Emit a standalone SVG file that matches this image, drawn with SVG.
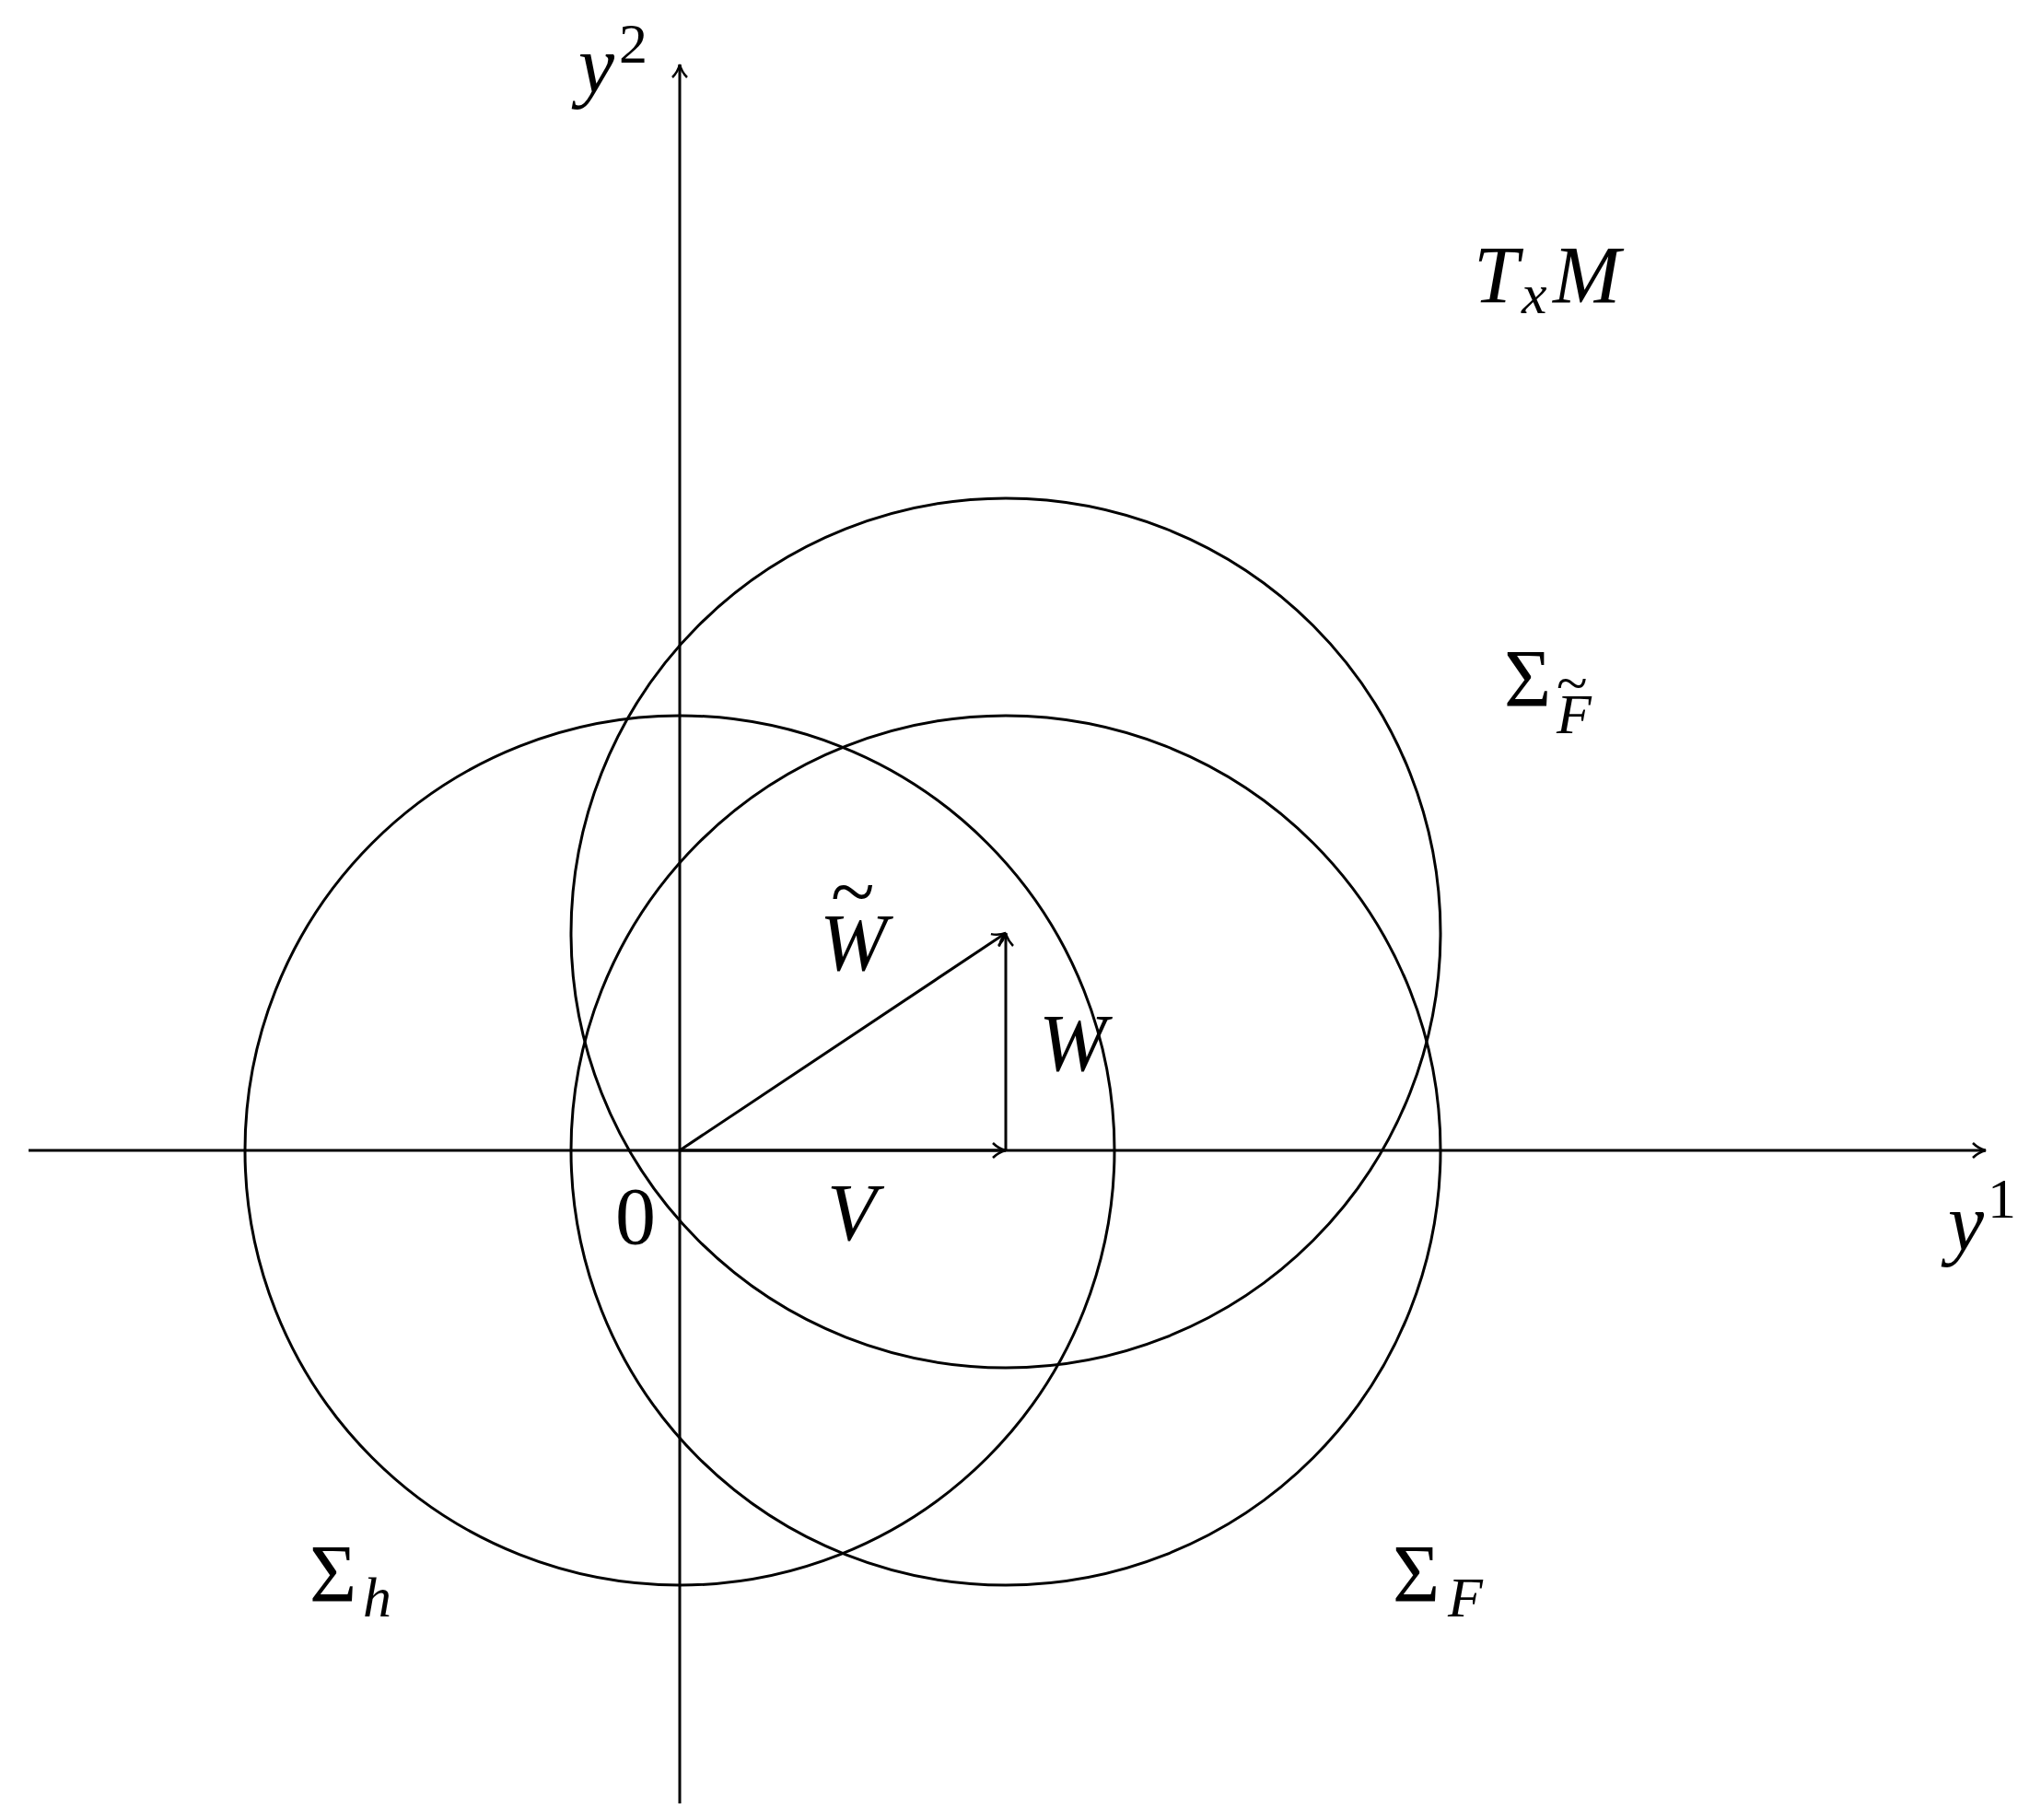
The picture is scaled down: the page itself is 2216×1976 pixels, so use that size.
<svg xmlns="http://www.w3.org/2000/svg" width="2216" height="1976" viewBox="0 0 2216 1976">
<style>
.l{fill:none;stroke:#000;stroke-width:3}
text{font-family:"Liberation Serif",serif;font-style:italic;font-size:88px;fill:#000}
.s{font-size:62px}
.r{font-style:normal}
</style>
<defs><marker id="a" viewBox="0 0 20 20" refX="18" refY="10" markerWidth="20" markerHeight="20" markerUnits="userSpaceOnUse" orient="auto"><path d="M4,2 Q10,8 18,10 Q10,12 4,18" fill="none" stroke="#000" stroke-width="2.5"/></marker></defs>
<rect width="2216" height="1976" fill="#fff"/>
<g id="connectors">
<line class="l" x1="31" y1="1249" x2="2156" y2="1249" marker-end="url(#a)"/>
<line class="l" x1="738" y1="1958" x2="738" y2="70" marker-end="url(#a)"/>
<line class="l" x1="738" y1="1249" x2="1092" y2="1249" marker-end="url(#a)"/>
<line class="l" x1="1092" y1="1249" x2="1092" y2="1013" marker-end="url(#a)"/>
<line class="l" x1="738" y1="1249" x2="1092" y2="1013" marker-end="url(#a)"/>
</g>
<g id="sigma_h"><circle class="l" cx="738" cy="1249" r="472"/><text x="336" y="1738" class="r">Σ</text><text x="394" y="1755" class="s">h</text></g>
<g id="sigma_F"><circle class="l" cx="1092" cy="1249" r="472"/><text x="1512" y="1738" class="r">Σ</text><text x="1572" y="1755" class="s">F</text></g>
<g id="sigma_Ft"><circle class="l" cx="1092" cy="1013" r="472"/><text x="1633" y="766" class="r">Σ</text><text x="1690" y="796" class="s">F</text><text x="1690" y="762" class="s r">~</text></g>
<g id="labels">
<text x="628" y="100">y</text><text x="672" y="68" class="s r">2</text>
<text x="1600" y="328">T</text><text x="1652" y="340" class="s">x</text><text x="1686" y="328">M</text>
<text x="890" y="1053">W</text><text x="902" y="998" class="r" font-size="70">~</text>
<text x="1128" y="1162">W</text>
<text x="668" y="1350" class="r">0</text>
<text x="898" y="1346">V</text>
<text x="2115" y="1357">y</text><text x="2158" y="1322" class="s r">1</text>
</g>
</svg>
